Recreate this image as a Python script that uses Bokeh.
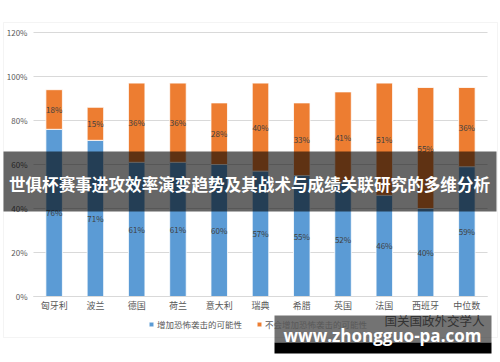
from bokeh.plotting import figure
from bokeh.models import (ColumnDataSource, BoxAnnotation, Label, Range1d,
                          Legend, LegendItem, FixedTicker, PrintfTickFormatter)
from bokeh.embed import file_html
from bokeh.resources import INLINE
from bokeh.core.properties import value

categories = ["匈牙利", "波兰", "德国", "荷兰", "意大利", "瑞典", "希腊", "英国", "法国", "西班牙", "中位数"]
increase = [76, 71, 61, 61, 60, 57, 55, 52, 46, 40, 59]
no_increase = [18, 15, 36, 36, 28, 40, 33, 41, 51, 55, 36]
y_ticks = [0, 20, 40, 60, 80, 100, 120]
series_names = ["增加恐怖袭击的可能性", "不会增加恐怖袭击的可能性"]
title_text = "世俱杯赛事进攻效率演变趋势及其战术与成绩关联研究的多维分析"
site_text = "www.zhongguo-pa.com"
mark_text = "国关国政外交学人"

BLUE = "#5b9bd5"
ORANGE = "#ed7d31"
FONT = "Noto Sans CJK SC"
W, H = 500, 362
# plot-area placement in canvas pixels
PL, PR, PT, PB = 33, 487, 32, 296
Y_MAX = 120
n = len(categories)

ux = (PR - PL) / n          # px per category
uy = (PB - PT) / Y_MAX      # px per percent
x_range = Range1d(-PL / ux, n + (W - PR) / ux)
y_range = Range1d(-(H - PB) / uy, Y_MAX + PT / uy)

xpos = [i + 0.5 for i in range(n)]
src = ColumnDataSource(dict(
    x=xpos,
    inc=increase,
    no=no_increase,
    inc_mid=[v / 2 for v in increase],
    no_mid=[a + b / 2 for a, b in zip(increase, no_increase)],
    inc_lab=[f"{v}%" for v in increase],
    no_lab=[f"{v}%" for v in no_increase],
))

p = figure(x_range=x_range, y_range=y_range, width=W, height=H,
           output_backend="svg", toolbar_location=None, min_border=0)
p.outline_line_color = None
p.background_fill_color = "white"
p.border_fill_color = "white"
p.xgrid.visible = False
p.ygrid.visible = False

# gridlines
p.segment(x0=[0] * len(y_ticks), x1=[n] * len(y_ticks), y0=y_ticks, y1=y_ticks,
          line_color="#d9d9d9", line_width=1)

rs = p.vbar_stack(["inc", "no"], x="x", width=0.4, color=[BLUE, ORANGE],
                  line_color="white", line_width=0.8, source=src)

p.text(x="x", y="inc_mid", text="inc_lab", source=src, text_align="center",
       text_baseline="middle", text_font_size="8px", text_color="#404040",
       text_font=value(FONT))
p.text(x="x", y="no_mid", text="no_lab", source=src, text_align="center",
       text_baseline="middle", text_font_size="8px", text_color="#404040",
       text_font=value(FONT))

p.yaxis.fixed_location = 0
p.yaxis.ticker = FixedTicker(ticks=y_ticks)
p.yaxis.formatter = PrintfTickFormatter(format="%d%%")
p.yaxis.axis_line_color = None
p.yaxis.major_tick_line_color = None
p.yaxis.minor_tick_line_color = None
p.yaxis.major_tick_out = 0
p.yaxis.major_tick_in = 0
p.yaxis.major_label_text_font_size = "8px"
p.yaxis.major_label_text_color = "#595959"
p.yaxis.major_label_text_font = FONT
p.yaxis.major_label_standoff = 6

p.xaxis.fixed_location = 0
p.xaxis.bounds = (0, n)
p.xaxis.ticker = FixedTicker(ticks=xpos)
p.xaxis.major_label_overrides = {x: c for x, c in zip(xpos, categories)}
p.xaxis.axis_line_color = "#d9d9d9"
p.xaxis.major_tick_line_color = None
p.xaxis.minor_tick_line_color = None
p.xaxis.major_tick_out = 0
p.xaxis.major_tick_in = 0
p.xaxis.major_label_text_font_size = "9px"
p.xaxis.major_label_text_color = "#595959"
p.xaxis.major_label_text_font = FONT
p.xaxis.major_label_standoff = 2

legend = Legend(items=[LegendItem(label=series_names[0], renderers=[rs[0]]),
                       LegendItem(label=series_names[1], renderers=[rs[1]])],
                orientation="horizontal", location=(148, H - 330),
                padding=0, margin=0, spacing=14, label_standoff=3,
                glyph_width=6, glyph_height=6, label_height=10,
                label_text_font_size="8.5px", label_text_color="#595959",
                label_text_font=FONT, border_line_color=None,
                background_fill_alpha=0)
p.add_layout(legend, "center")

def box(l, r, t, b, **kw):
    # canvas pixels from top-left -> screen units (bottom origin)
    return BoxAnnotation(left=l, right=r, top=H - t, bottom=H - b,
                         left_units="screen", right_units="screen",
                         top_units="screen", bottom_units="screen", **kw)

def label(x, y, text, **kw):
    return Label(x=x, y=H - y, x_units="screen", y_units="screen", text=text,
                 text_align="center", text_baseline="middle", level="overlay", **kw)

# chart border
p.add_layout(box(3, 497, 22, 337, fill_alpha=0, line_color="#d9d9d9",
                 line_width=1, level="underlay"))

# title banner
p.add_layout(box(3, 496, 151, 211, fill_color="black", fill_alpha=0.6,
                 line_color=None, level="overlay"))
p.add_layout(label(249, 183, title_text, text_color="white", text_font=FONT,
                   text_font_style="bold", text_font_size="16.6px"))

# watermark boxes
p.add_layout(box(274, 491, 315, 342, fill_color="black", fill_alpha=0.55,
                 line_color=None, level="overlay"))
p.add_layout(box(274, 491, 342, 353, fill_color="black", fill_alpha=1.0,
                 line_color=None, level="overlay"))
p.add_layout(label(434, 320, mark_text, text_color="#333333", text_font=FONT,
                   text_font_size="12.5px"))
p.add_layout(label(382, 335, site_text, text_color="white", text_font="Open Sans",
                   text_font_style="bold", text_font_size="17px"))

open("out.html", "w").write(file_html(p, INLINE))
